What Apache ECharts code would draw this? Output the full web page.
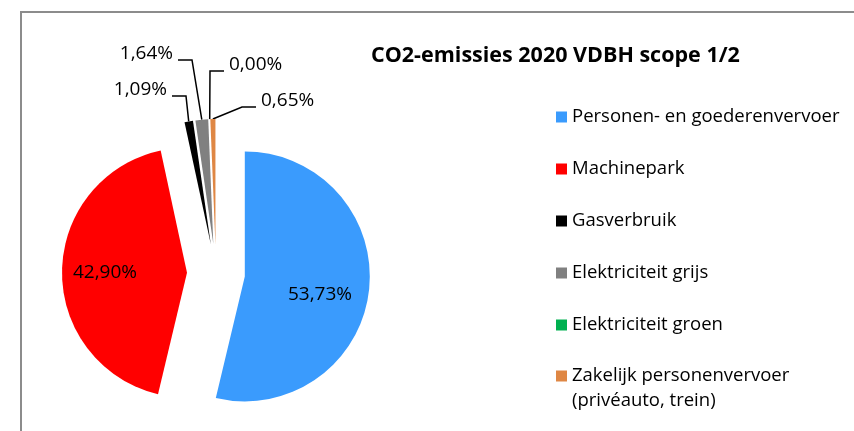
<!DOCTYPE html>
<html>
<head>
<meta charset="utf-8">
<script src="https://cdn.jsdelivr.net/npm/echarts@6/dist/echarts.min.js"></script>
<style>html,body{margin:0;padding:0;background:#fff}#c{width:854px;height:431px}</style>
</head>
<body>
<div id="c"></div>
<script>
// ---- data ----
const categories = ['Personen- en goederenvervoer', 'Machinepark', 'Gasverbruik', 'Elektriciteit grijs', 'Elektriciteit groen', 'Zakelijk personenvervoer (privéauto, trein)'];
const values = [53.73, 42.90, 1.09, 1.64, 0.00, 0.65];
const colors = ['#3A9BFD', '#FF0000', '#000000', '#808080', '#00B050', '#DF8744'];
const titleText = 'CO2-emissies 2020 VDBH scope 1/2';

// ---- layout / style ----
const FONT = 'Open Sans';
const pieCenter = [216, 273], pieRadius = 125, explode = 29;
const labelPlacement = [
  {x: 320, y: 295, align: 'center', inside: true},
  {x: 105, y: 273, align: 'center', inside: true},
  {x: 167, y: 90, align: 'right'},
  {x: 173, y: 54, align: 'right'},
  {x: 229, y: 65, align: 'left'},
  {x: 261, y: 101, align: 'left'}
];

function fmt(v) { return v.toFixed(2).replace('.', ',') + '%'; }

const total = values.reduce((a, b) => a + b, 0);
let cum = 0;
const series = values.map((v, i) => {
  const mid = (cum + v / 2) / total * 2 * Math.PI;
  cum += v;
  const c = [pieCenter[0] + explode * Math.sin(mid), pieCenter[1] - explode * Math.cos(mid)];
  const lp = labelPlacement[i];
  return {
    type: 'pie', center: c, radius: pieRadius, startAngle: 90, clockwise: true,
    avoidLabelOverlap: false, animation: false, silent: true,
    emphasis: {disabled: true, scale: false},
    itemStyle: {borderWidth: 0},
    label: {fontFamily: FONT, fontSize: 19, color: '#000'},
    labelLine: {lineStyle: {color: '#000', width: 1.5}},
    data: categories.map((name, j) => ({
      name: name, value: values[j],
      itemStyle: {color: colors[j], opacity: j === i ? 1 : 0, borderWidth: 0},
      label: {show: j === i, position: lp.inside ? 'inside' : 'outside', formatter: fmt(values[j])},
      labelLine: {show: j === i && !lp.inside}
    })),
    labelLayout: function (params) {
      const p = labelPlacement[params.dataIndex];
      const out = {x: p.x, y: p.y, align: p.align, verticalAlign: 'middle'};
      if (!p.inside && params.labelLinePoints) {
        const a = params.labelLinePoints[0];
        const dir = p.align === 'right' ? 1 : -1;
        const ly = p.y + 6;
        out.labelLinePoints = [a, [p.x + dir * 19, ly], [p.x + dir * 5, ly]];
      }
      return out;
    }
  };
});

const legendData = categories.map((name, j) => ({name: name, itemStyle: {color: colors[j], opacity: 1}}));

const chart = echarts.init(document.getElementById('c'), null, {renderer: 'canvas'});
chart.setOption({
  backgroundColor: '#fff',
  animation: false,
  title: {
    text: titleText, left: 371, top: 43, padding: 0,
    textStyle: {fontFamily: FONT, fontSize: 21.5, fontWeight: 'bold', color: '#000', lineHeight: 26}
  },
  legend: [
    {
      data: legendData.slice(0, 5), orient: 'vertical', left: 556, top: 106, padding: 0,
      itemWidth: 11, itemHeight: 11, itemGap: 30, icon: 'rect',
      textStyle: {fontFamily: FONT, fontSize: 18.5, color: '#000', lineHeight: 22}
    },
    {
      data: legendData.slice(5), orient: 'vertical', left: 556, top: 338.5, padding: 0,
      itemWidth: 11, itemHeight: 11, icon: 'rect',
      formatter: function () { return '\nZakelijk personenvervoer\n(privéauto, trein)'; },
      textStyle: {fontFamily: FONT, fontSize: 18.5, color: '#000', lineHeight: 25}
    }
  ],
  graphic: [{
    type: 'rect', silent: true, z: -1,
    shape: {x: 21, y: 12, width: 900, height: 500},
    style: {fill: 'none', stroke: '#8c8c8c', lineWidth: 2}
  }],
  series: series
});
</script>
</body>
</html>
